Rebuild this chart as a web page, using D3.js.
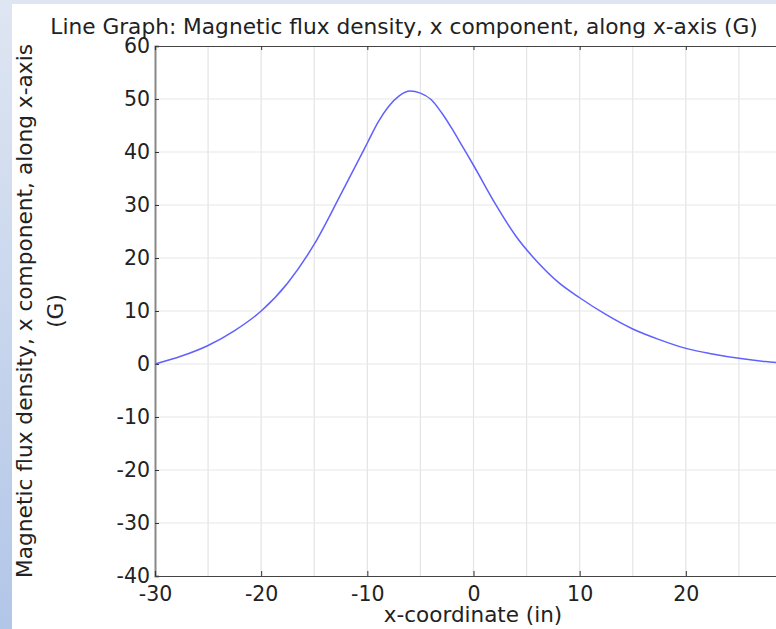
<!DOCTYPE html>
<html>
<head>
<meta charset="utf-8">
<script src="https://cdn.jsdelivr.net/npm/d3@7"></script>
<style>
html,body{margin:0;padding:0;background:#fff;}
svg{display:block;font-family:"DejaVu Sans",sans-serif;}
</style>
</head>
<body>
<svg id="chart" width="776" height="629"></svg>
<script>
const titleText = "Line Graph: Magnetic flux density, x component, along x-axis (G)";
const xTitle = "x-coordinate (in)";
const yTitleLines = ["Magnetic flux density, x component, along x-axis", "(G)"];
const xTicks = [-30, -20, -10, 0, 10, 20];
const yTicks = [-40, -30, -20, -10, 0, 10, 20, 30, 40, 50, 60];
const xGrid = [-25, -20, -15, -10, -5, 0, 5, 10, 15, 20, 25];
const xCoord = [-30, -27.5, -25, -22.5, -20, -17.5, -15, -12.5, -11, -10, -9, -8, -7, -6, -5, -4, -3, -2, -1, 0, 2, 4, 6, 8, 10, 12.5, 15, 17.5, 20, 22.5, 25, 27.5, 30];
const bx = [0, 1.5, 3.5, 6.3, 10.0, 15.3, 22.6, 32.0, 37.8, 41.7, 45.6, 48.6, 50.6, 51.5, 51.1, 49.9, 47.4, 44.3, 40.9, 37.5, 30.4, 24.1, 19.3, 15.4, 12.5, 9.3, 6.6, 4.6, 2.95, 1.9, 1.07, 0.45, 0.1];

const svg = d3.select("#chart");
const W = 776, H = 629;
const defs = svg.append("defs");
const grad = defs.append("linearGradient").attr("id","side").attr("x1",0).attr("y1",0).attr("x2",0).attr("y2",1);
grad.append("stop").attr("offset","0%").attr("stop-color","#dfe6f2");
grad.append("stop").attr("offset","100%").attr("stop-color","#b2c6e8");
svg.append("rect").attr("x",0).attr("y",0).attr("width",W).attr("height",H).attr("fill","#fff");
svg.append("rect").attr("x",0).attr("y",0).attr("width",W).attr("height",4).attr("fill","#dfe6f2");
svg.append("rect").attr("x",0).attr("y",0).attr("width",12).attr("height",H).attr("fill","url(#side)");

const x = d3.scaleLinear().domain([-30, 30]).range([155, 792]);
const y = d3.scaleLinear().domain([-40, 60]).range([576, 46]);

// grid
svg.append("g").selectAll("line").data(xGrid).join("line")
  .attr("x1", d => x(d)).attr("x2", d => x(d)).attr("y1", y(60)).attr("y2", y(-40))
  .attr("stroke", "#e4e4e4").attr("stroke-width", 1.2);
svg.append("g").selectAll("line").data(yTicks.slice(1, -1)).join("line")
  .attr("x1", x(-30)).attr("x2", x(30)).attr("y1", d => y(d)).attr("y2", d => y(d))
  .attr("stroke", "#e8e8e8").attr("stroke-width", 1.2);

const fmt = d => String(d); // hyphen-minus like the reference

// axes
const yAxis = d3.axisLeft(y).tickValues(yTicks).tickSize(-4).tickPadding(5).tickFormat(fmt);
const gy = svg.append("g").attr("transform", `translate(${x(-30)},0)`).call(yAxis);
gy.select(".domain").attr("stroke", "#888").attr("stroke-width", 2);
gy.selectAll(".tick line").attr("stroke", "#333");
gy.selectAll("text").attr("font-size", 20.5).attr("fill", "#222").attr("font-family", "DejaVu Sans");

const xAxis = d3.axisBottom(x).tickValues(xTicks).tickSize(-5).tickPadding(10).tickFormat(fmt);
const gx = svg.append("g").attr("transform", `translate(0,${y(-40)})`).call(xAxis);
gx.select(".domain").attr("stroke", "#444").attr("stroke-width", 1.2);
gx.selectAll(".tick line").attr("stroke", "#333");
gx.selectAll("text").attr("font-size", 20.5).attr("fill", "#222").attr("font-family", "DejaVu Sans");

const xAxisTop = d3.axisTop(x).tickValues(xTicks).tickSize(-4).tickFormat("");
const gt = svg.append("g").attr("transform", `translate(0,${y(60)})`).call(xAxisTop);
gt.select(".domain").attr("stroke", "#444").attr("stroke-width", 1.2);
gt.selectAll(".tick line").attr("stroke", "#333");

// line
const line = d3.line().x((d, i) => x(xCoord[i])).y(d => y(d)).curve(d3.curveMonotoneX);
svg.append("path").datum(bx).attr("d", line).attr("fill", "none")
  .attr("stroke", "#6060ff").attr("stroke-width", 1.5);

// title
svg.append("text").attr("x", 404).attr("y", 34).attr("text-anchor", "middle")
  .attr("font-size", 21.7).attr("fill", "#222").text(titleText);
svg.append("text").attr("x", 473).attr("y", 622).attr("text-anchor", "middle")
  .attr("font-size", 21.5).attr("fill", "#222").text(xTitle);
const yt = svg.append("text").attr("transform", `translate(32,${(y(60)+y(-40))/2}) rotate(-90)`)
  .attr("text-anchor", "middle").attr("font-size", 21.7).attr("fill", "#222");
yt.selectAll("tspan").data(yTitleLines).join("tspan")
  .attr("x", 0).attr("dy", (d, i) => i === 0 ? 0 : 31).text(d => d);
</script>
</body>
</html>
